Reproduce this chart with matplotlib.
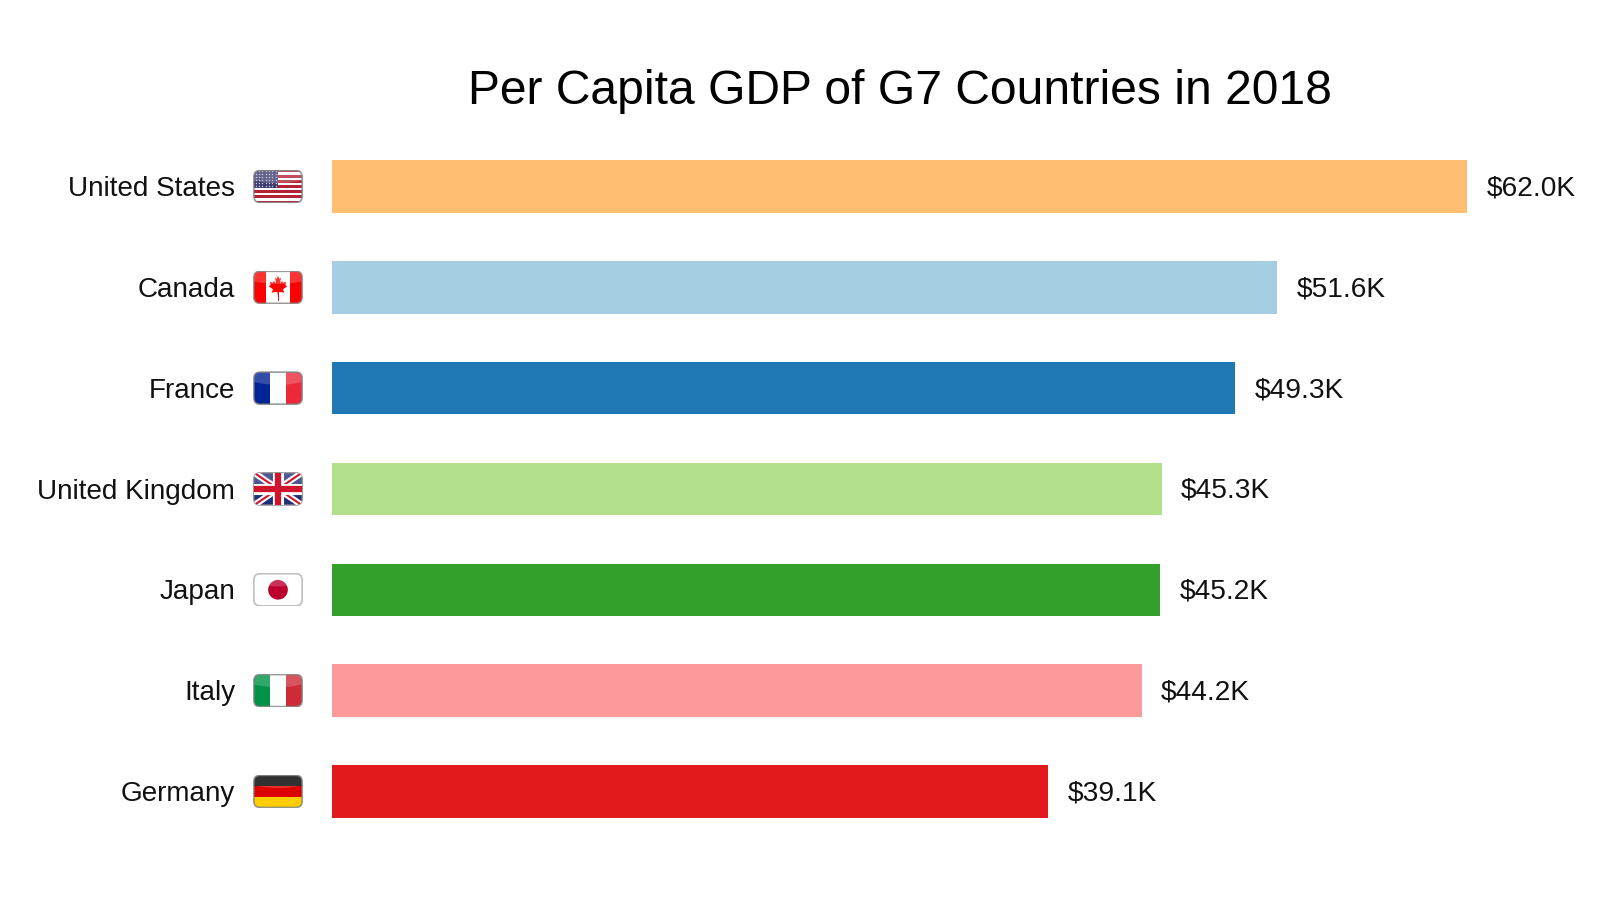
import matplotlib
matplotlib.use("Agg")
import matplotlib.pyplot as plt
import matplotlib.patches as mpatches
import numpy as np

plt.rcParams['font.family'] = ['Liberation Sans', 'DejaVu Sans']

countries = ["United States", "Canada", "France", "United Kingdom", "Japan", "Italy", "Germany"]
gdp = [62.0, 51.6, 49.3, 45.3, 45.2, 44.2, 39.1]
colors = ["#fdbf6f", "#a6cee3", "#1f78b4", "#b2df8a", "#33a02c", "#fb9a99", "#e31a1c"]
flag_codes = ["us", "ca", "fr", "uk", "jp", "it", "de"]
title = "Per Capita GDP of G7 Countries in 2018"

W, H = 1620, 918
LEFT, RIGHT, TOP, BOTTOM = 332.4, 1467.4, 136.1, 841.8
FLAG_X0, FLAG_W, FLAG_H = 253.4, 49.2, 33.4
ROUND = .125

# half a maple leaf, flag units
LEAF = [(0, -.30), (.03, -.12), (.26, -.15), (.20, -.02), (.38, .12), (.30, .16), (.33, .30),
        (.20, .26), (.17, .34), (.08, .22), (.12, .48), (.05, .42), (0, .56)]


def stripes_v(fa, cols):
    for i, c in enumerate(cols):
        fa.add_patch(mpatches.Rectangle((i / len(cols), 0), 1 / len(cols), 1, fc=c, ec="none"))


def stripes_h(fa, cols):
    n = len(cols)
    for i, c in enumerate(cols):
        fa.add_patch(mpatches.Rectangle((0, 1 - (i + 1) / n), 1, 1 / n, fc=c, ec="none"))


def draw_flag(fa, code):
    fa.set_xlim(0, 1)
    fa.set_ylim(0, 1)
    fa.axis("off")
    if code == "us":
        stripes_h(fa, ["#b22234" if i % 2 == 0 else "#ffffff" for i in range(13)])
        fa.add_patch(mpatches.Rectangle((0, 6 / 13), .5, 7 / 13, fc="#3c3b6e", ec="none"))
        sx, sy = np.meshgrid(np.linspace(.05, .45, 7), np.linspace(.53, .95, 6))
        fa.scatter(sx.ravel(), sy.ravel(), s=1.2, c="#b8b8d0", linewidths=0)
    elif code == "ca":
        stripes_v(fa, ["#ff0000", "#ffffff", "#ffffff", "#ff0000"])
        pts = [(.5 + x * .5, .45 + y * .72) for x, y in LEAF]
        pts += [(.5 - x * .5, .45 + y * .72) for x, y in LEAF[::-1]]
        fa.add_patch(mpatches.Polygon(pts, fc="#ff0000", ec="none"))
        fa.plot([.5, .5], [.12, .35], color="#ff0000", lw=.7)
    elif code == "fr":
        stripes_v(fa, ["#002395", "#ffffff", "#ed2939"])
    elif code == "uk":
        fa.add_patch(mpatches.Rectangle((0, 0), 1, 1, fc="#1f2f7a", ec="none"))
        for a, b in [((0, 1), (1, 0)), ((0, 0), (1, 1))]:
            fa.plot(*zip(a, b), color="white", lw=4.5, solid_capstyle="butt")
            fa.plot(*zip(a, b), color="#cf142b", lw=1.5, solid_capstyle="butt")
        fa.plot([.5, .5], [0, 1], color="white", lw=8, solid_capstyle="butt")
        fa.plot([0, 1], [.5, .5], color="white", lw=8, solid_capstyle="butt")
        fa.plot([.5, .5], [0, 1], color="#cf142b", lw=4.5, solid_capstyle="butt")
        fa.plot([0, 1], [.5, .5], color="#cf142b", lw=4.5, solid_capstyle="butt")
    elif code == "jp":
        fa.add_patch(mpatches.Rectangle((0, 0), 1, 1, fc="white", ec="none"))
        fa.add_patch(mpatches.Ellipse((.5, .5), .4, .59, fc="#bc002d", ec="none"))
    elif code == "it":
        stripes_v(fa, ["#009246", "#ffffff", "#ce2b37"])
    elif code == "de":
        stripes_h(fa, ["#000000", "#dd0000", "#ffce00"])

    # glossy top and rounded clip
    box = mpatches.FancyBboxPatch((.01, .02), .98, .96, boxstyle=f"round,pad=0,rounding_size={ROUND}",
                                  mutation_aspect=FLAG_W / FLAG_H, fc="none", ec="none",
                                  transform=fa.transData)
    fa.add_patch(box)
    fa.add_patch(mpatches.Ellipse((.5, 1.0), 1.6, .8, fc="white", ec="none", alpha=.2))
    for art in fa.patches + fa.lines + fa.collections:
        art.set_clip_path(box)
    border = "#b0b0b0" if code == "jp" else "#808080"
    fa.add_patch(mpatches.FancyBboxPatch((.01, .02), .98, .96, boxstyle=f"round,pad=0,rounding_size={ROUND}",
                                         mutation_aspect=FLAG_W / FLAG_H, fc="none", ec=border,
                                         lw=1.2, alpha=.8))


fig = plt.figure(figsize=(W / 100, H / 100), dpi=100)
ax = fig.add_axes([LEFT / W, 1 - BOTTOM / H, (RIGHT - LEFT) / W, (BOTTOM - TOP) / H])

ypos = np.arange(len(countries))[::-1]
ax.barh(ypos, gdp, height=0.52, color=colors)
ax.set_xlim(0, gdp[0])
ax.set_ylim(-0.5, len(countries) - 0.5)
ax.axis("off")
ax.set_title(title, fontsize=34.55, pad=23.2, color="black")

flag_h = FLAG_H / ((BOTTOM - TOP) / len(countries))
for y, val, name, code in zip(ypos, gdp, countries, flag_codes):
    ax.annotate(f"${val:.1f}K", (val, y), xytext=(14, 0.8), textcoords="offset points",
                va="center_baseline", ha="left", fontsize=20.25, color="#111111", annotation_clip=False)
    ax.annotate(name, (0, y), xytext=(-70, 0.3), textcoords="offset points",
                va="center_baseline", ha="right", fontsize=20.05, color="#111111", annotation_clip=False)
    fa = ax.inset_axes([(FLAG_X0 - LEFT) / (RIGHT - LEFT), y - flag_h / 2, FLAG_W / (RIGHT - LEFT), flag_h],
                       transform=ax.get_yaxis_transform())
    draw_flag(fa, code)

fig.savefig("out.png", dpi=100, facecolor="white")
